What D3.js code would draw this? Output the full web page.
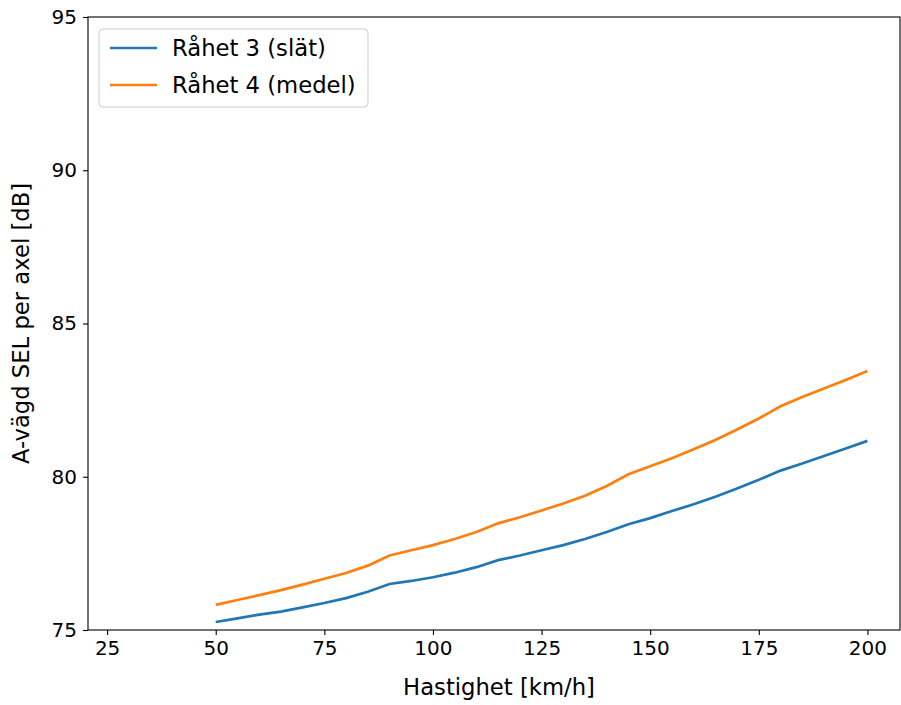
<!DOCTYPE html>
<html><head><meta charset="utf-8">
<script src="https://cdn.jsdelivr.net/npm/d3@7"></script>
<style>body{margin:0;background:#fff}svg{font-family:"DejaVu Sans",sans-serif}</style>
</head><body><svg id="c" width="901" height="705"></svg>
<script>
const speeds = [50,55,60,65,70,75,80,85,90,95,100,105,110,115,120,125,130,135,140,145,150,155,160,165,170,175,180,185,190,195,200];
const smooth = [75.26,75.38,75.5,75.6,75.74,75.88,76.04,76.25,76.5,76.6,76.72,76.87,77.05,77.28,77.43,77.6,77.77,77.97,78.2,78.45,78.65,78.88,79.1,79.35,79.62,79.9,80.2,80.43,80.68,80.92,81.17];
const medium = [75.82,75.98,76.14,76.3,76.48,76.67,76.86,77.1,77.43,77.6,77.77,77.97,78.2,78.48,78.68,78.9,79.13,79.38,79.7,80.08,80.34,80.6,80.9,81.2,81.54,81.9,82.3,82.6,82.88,83.16,83.45];
const xTicks = [25,50,75,100,125,150,175,200];
const yTicks = [75,80,85,90,95];
const series = [{name:"Råhet 3 (slät)",vals:smooth,color:"#1f77b4"},{name:"Råhet 4 (medel)",vals:medium,color:"#ff7f0e"}];

const svg = d3.select("#c");
const L=88,R=900,T=17,B=630;
const x = d3.scaleLinear().domain([20.6,207.5]).range([L,R]);
const y = d3.scaleLinear().domain([75,95]).range([B,T]);
const g = svg.append("g");
const xa = g.append("g").attr("transform",`translate(0,${B})`).call(d3.axisBottom(x).tickValues(xTicks).tickSize(5).tickPadding(6));
const ya = g.append("g").attr("transform",`translate(${L},0)`).call(d3.axisLeft(y).tickValues(yTicks).tickSize(5).tickPadding(6));
[xa,ya].forEach(a=>{a.selectAll("text").attr("font-size",20).attr("fill","#000").attr("font-family","DejaVu Sans");a.select(".domain").remove();a.selectAll("line").attr("stroke","#000").attr("stroke-width",1.1);});
const line = d3.line().x((d,i)=>x(speeds[i])).y(d=>y(d));
series.forEach(s=>g.append("path").attr("d",line(s.vals)).attr("fill","none").attr("stroke",s.color).attr("stroke-width",2.7));
g.append("rect").attr("x",L).attr("y",T).attr("width",R-L).attr("height",B-T).attr("fill","none").attr("stroke","#000").attr("stroke-width",1.1);
svg.append("text").attr("x",(L+R)/2+5).attr("y",695).attr("text-anchor","middle").attr("font-size",22.7).text("Hastighet [km/h]");
svg.append("text").attr("transform",`translate(29,${(T+B)/2}) rotate(-90)`).attr("text-anchor","middle").attr("font-size",22.7).text("A-vägd SEL per axel [dB]");
const lg = svg.append("g");
lg.append("rect").attr("x",99).attr("y",29).attr("width",269).attr("height",78).attr("rx",4).attr("fill","#fff").attr("stroke","#ccc");
series.forEach((s,i)=>{
  const yy=48+i*37;
  lg.append("line").attr("x1",110).attr("x2",157).attr("y1",yy).attr("y2",yy).attr("stroke",s.color).attr("stroke-width",2.7);
  lg.append("text").attr("x",172).attr("y",yy+8).attr("font-size",22.7).text(s.name);
});
</script></body></html>
